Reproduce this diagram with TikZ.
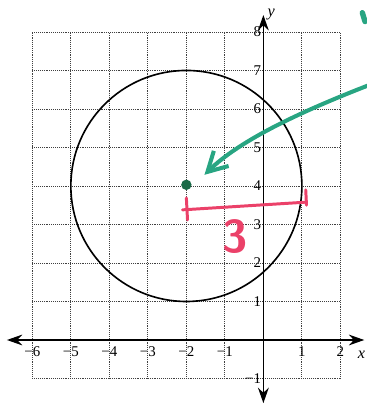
\documentclass[tikz,border=0pt]{standalone}
\usepackage{fontspec}
\setmainfont{Liberation Serif}
\usetikzlibrary{arrows.meta, calc, positioning}

\definecolor{stiftgruen}{RGB}{40,165,130}
\definecolor{punktgruen}{RGB}{25,105,70}
\definecolor{stiftrot}{RGB}{235,65,105}

\begin{document}
\begin{tikzpicture}[
            gitter/.style={draw=black!75, line width=0.6pt, dash pattern=on 0.7pt off 0.7pt},
            achse/.style={draw=black, line width=1.1pt,
            {Stealth[length=4mm, width=2.8mm, inset=1.3mm]}-{Stealth[length=4mm, width=2.8mm, inset=1.3mm]}},
            zahl/.style={font=\fontsize{11}{13}\selectfont, inner sep=1pt},
            kreis/.style={draw=black, line width=1.2pt},
            pfeil/.style={draw=stiftgruen, line width=3pt, line cap=round,
            -{Straight Barb[length=5mm, width=5.5mm]}},
            strich/.style={draw=stiftrot, line width=2.2pt, line cap=round}
        ]

% ----- Rahmen -----
            \useasboundingbox (-6.84,-1.74) rectangle (2.67,8.83);

% ----- Gitter -----
            \draw[gitter] (-6,-1) grid (2,8);

% ----- Achsen -----
            \coordinate (xl) at (-6.66,0);
            \coordinate (xr) at (2.62,0);
            \coordinate (yu) at (0,-1.64);
            \coordinate (yo) at (0,8.44);
            \draw[achse] (xl) -- (xr);
            \draw[achse] (yu) -- (yo);
            \node[zahl, font=\fontsize{12}{14}\selectfont\itshape] (xname) at (2.55,-0.38) {x};
            \node[zahl, font=\fontsize{12}{14}\selectfont\itshape, right=2pt of yo] (yname) {y};

% ----- Beschriftung x-Achse -----
            \node[zahl, below] (xm6) at (-6,-0.14) {−6};
            \node[zahl, below] (xm5) at (-5,-0.14) {−5};
            \node[zahl, below] (xm4) at (-4,-0.14) {−4};
            \node[zahl, below] (xm3) at (-3,-0.14) {−3};
            \node[zahl, below] (xm2) at (-2,-0.14) {−2};
            \node[zahl, below] (xm1) at (-1,-0.14) {−1};
            \node[zahl, below] (xp1) at (1,-0.14) {1};
            \node[zahl, below] (xp2) at (2,-0.14) {2};

% ----- Beschriftung y-Achse -----
            \node[zahl, left] (ym1) at (-0.02,-1) {−1};
            \node[zahl, left] (yp1) at (-0.02,1) {1};
            \node[zahl, left] (yp2) at (-0.02,2) {2};
            \node[zahl, left] (yp3) at (-0.02,3) {3};
            \node[zahl, left] (yp4) at (-0.02,4) {4};
            \node[zahl, left] (yp5) at (-0.02,5) {5};
            \node[zahl, left] (yp6) at (-0.02,6) {6};
            \node[zahl, left] (yp7) at (-0.02,7) {7};
            \node[zahl, left] (yp8) at (-0.02,8) {8};

% ----- Kreis und Mittelpunkt -----
            \draw[kreis] (-2,4) circle[radius=3];
            \node[circle, fill=punktgruen, minimum size=0.27cm, inner sep=0pt] (mitte) at (-2,4.03) {};

% ----- Radius (rot) -----
            \draw[strich] (-2.1,3.38) -- (1.11,3.58);
            \draw[strich] (-2.0,3.69) -- (-1.97,3.12);
            \draw[strich] (1.1,3.9) -- (1.12,3.5);
            \node[text=stiftrot, font=\fontsize{34}{34}\selectfont\sffamily\bfseries] (drei) at (-0.73,2.68) {3};

% ----- Pfeil (gruen) -----
            \coordinate (pstart) at (2.9,6.68);
            \coordinate (pspitze) at (-1.53,4.29);
            \draw[pfeil] (pstart) .. controls (1.0,5.95) and (-0.6,5.2) .. (pspitze);
            \draw[stiftgruen, line width=4pt, line cap=round] (2.57,8.5) -- (2.64,8.27);

        \end{tikzpicture}
\end{document}
